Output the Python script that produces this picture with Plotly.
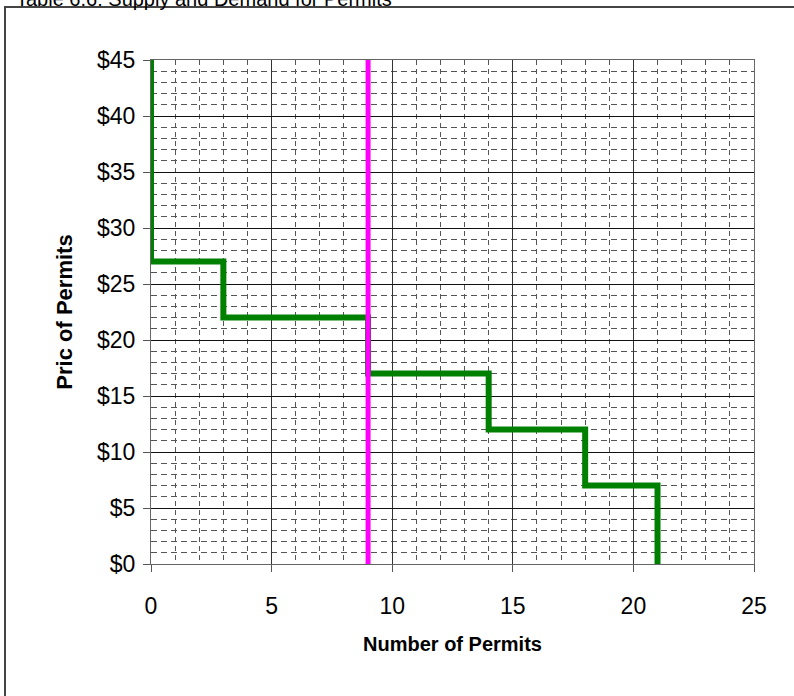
import plotly.graph_objects as go

# Data
demand_x = [0, 0, 3, 3, 9, 9, 14, 14, 18, 18, 21, 21]
demand_y = [45, 27, 27, 22, 22, 17, 17, 12, 12, 7, 7, 0]
supply_x = [9, 9]
supply_y = [0, 45]
x_ticks = [0, 5, 10, 15, 20, 25]
y_ticks = [0, 5, 10, 15, 20, 25, 30, 35, 40, 45]
y_labels = ["$" + str(v) for v in y_ticks]
title_text = "Table 6.6: Supply and Demand for Permits"

fig = go.Figure()
fig.add_trace(go.Scatter(x=demand_x, y=demand_y, mode="lines",
                         line=dict(color="#008000", width=6), showlegend=False))
fig.add_trace(go.Scatter(x=supply_x, y=supply_y, mode="lines",
                         line=dict(color="#FF00FF", width=5), showlegend=False))

font = "Liberation Sans, Arial, sans-serif"
L, R, T, B = 151, 40, 60, 132
PW, PH = 794 - L - R, 696 - T - B

fig.update_layout(
    width=794, height=696,
    margin=dict(l=L, r=R, t=T, b=B, pad=0),
    paper_bgcolor="white", plot_bgcolor="white",
    font=dict(family=font, color="black", size=23),
    showlegend=False,
)
fig.update_xaxes(
    range=[0, 25], tickvals=x_ticks, ticks="outside", ticklen=7, tickcolor="#555",
    tickfont=dict(size=23, family=font),
    ticklabelstandoff=14,
    showgrid=True, gridcolor="#333", gridwidth=1,
    minor=dict(dtick=1, showgrid=True, gridcolor="#555", griddash="5px,4px", gridwidth=1),
    showline=True, linecolor="#666", linewidth=1, mirror=True,
    zeroline=False,
    title=dict(text="<b>Number of Permits</b>", font=dict(size=20, family=font), standoff=19),
)
fig.update_yaxes(
    range=[0, 45], tickvals=y_ticks, ticktext=y_labels, ticks="outside", ticklen=7, tickcolor="#555",
    tickfont=dict(size=23, family=font),
    ticklabelstandoff=3,
    showgrid=True, gridcolor="#111", gridwidth=1,
    minor=dict(dtick=1, showgrid=True, gridcolor="#555", griddash="6px,4px", gridwidth=1),
    showline=True, linecolor="#666", linewidth=1, mirror=True,
    zeroline=False,
    title=dict(text="<b>Pric of Permits</b>", font=dict(size=22, family=font), standoff=18),
)

# Outer chart border (runs off the right and bottom edges in the original)
fig.add_shape(type="rect", xref="paper", yref="paper",
              x0=(5 - L) / PW, x1=(820 - L) / PW,
              y0=(696 - B - 720) / PH, y1=(696 - B - 7) / PH,
              line=dict(color="#444", width=2), fillcolor="rgba(0,0,0,0)", layer="below")
# Title (its top is cut off by the page edge in the original)
fig.add_annotation(text=title_text, xref="paper", yref="paper",
                   x=(14 - L) / PW, y=(696 - B + 1) / PH,
                   xanchor="left", yanchor="middle",
                   showarrow=False, font=dict(size=20, family=font))

fig.write_html("out.html", config={"displayModeBar": False},
               post_script="document.body.style.margin='0';")
